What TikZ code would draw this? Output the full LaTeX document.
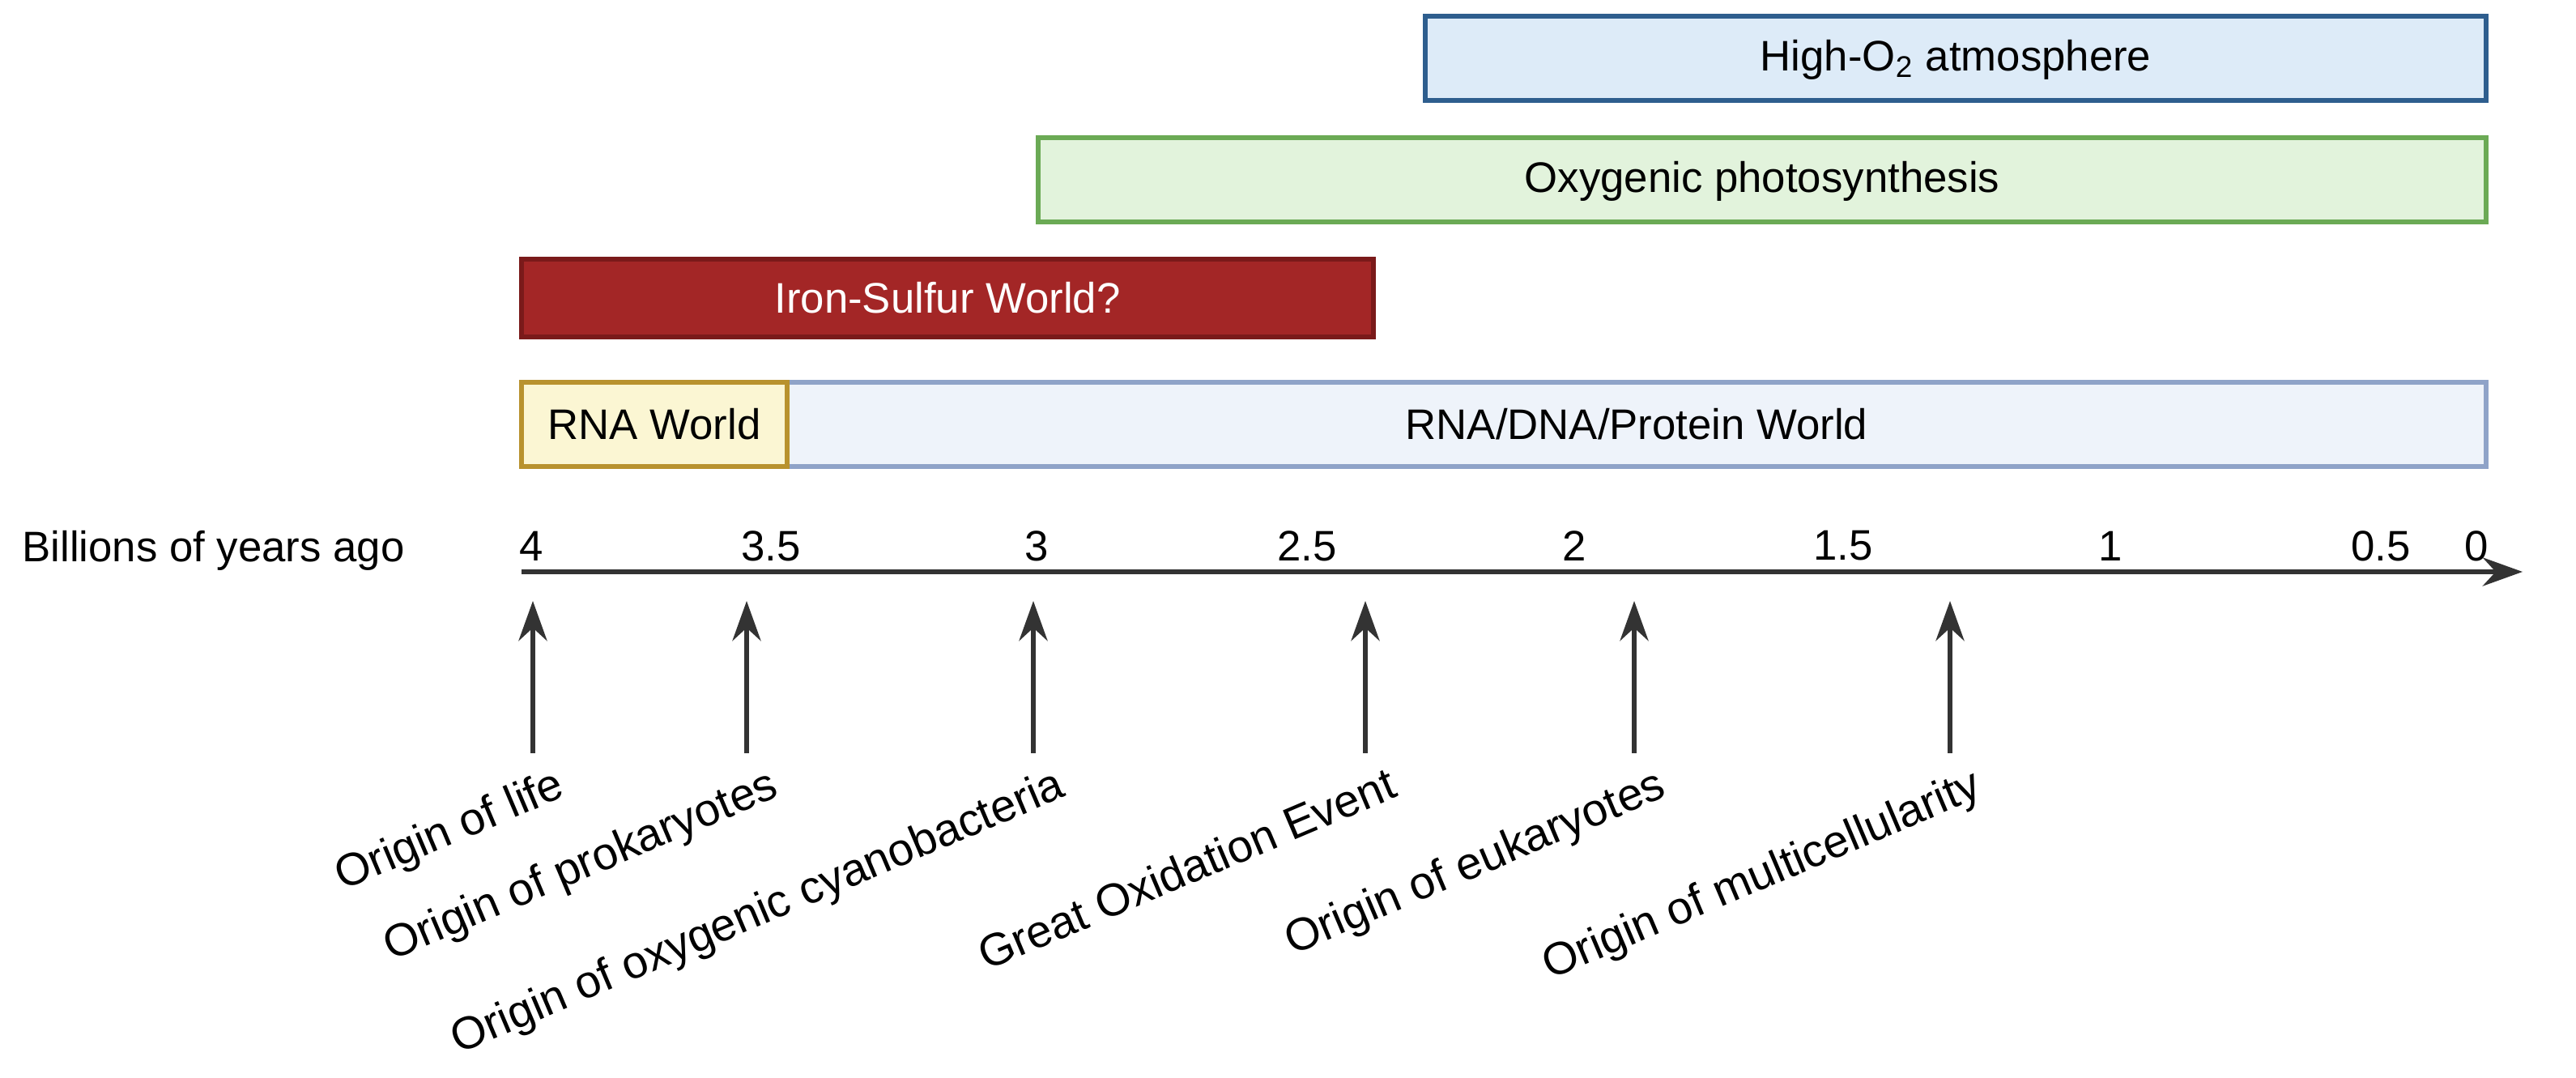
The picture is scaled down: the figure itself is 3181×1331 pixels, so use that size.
\documentclass[tikz,border=0pt]{standalone}
\usepackage{fontspec}
\setmainfont{Liberation Sans}
\usetikzlibrary{arrows.meta}
\definecolor{oxf}{HTML}{DDEBF8}\definecolor{oxd}{HTML}{2E5E8E}
\definecolor{phf}{HTML}{E2F3DC}\definecolor{phd}{HTML}{6BAA55}
\definecolor{fef}{HTML}{A32626}\definecolor{fed}{HTML}{7A1A1A}
\definecolor{rnf}{HTML}{FBF6D3}\definecolor{rnd}{HTML}{B8922E}
\definecolor{prf}{HTML}{EEF3FA}\definecolor{prd}{HTML}{8FA3C8}
\definecolor{ax}{HTML}{333333}
\begin{document}
\begin{tikzpicture}[x=0.01cm,y=-0.01cm,font=\fontsize{15}{17}\selectfont,
  bar/.style={draw,line width=1.6pt,minimum height=0pt},
  up/.style={-{Stealth[length=14pt,width=10pt]},line width=1.6pt,ax},
  ev/.style={rotate=23,anchor=north east,inner sep=2pt,font=\fontsize{16}{18}\selectfont}]
\useasboundingbox (0,0) rectangle (3181,1331);
\draw[bar,fill=oxf,draw=oxd] (1760,20) rectangle (3070,124);
\node at (2415,74) {High-O\textsubscript{2} atmosphere};
\draw[bar,fill=phf,draw=phd] (1282,170) rectangle (3070,274);
\node at (2176,224) {Oxygenic photosynthesis};
\draw[bar,fill=fef,draw=fed] (644,320) rectangle (1696,416);
\node[white] at (1170,368) {Iron-Sulfur World?};
\draw[bar,fill=prf,draw=prd] (972,472) rectangle (3070,576);
\node at (2021,524) {RNA/DNA/Protein World};
\draw[bar,fill=rnf,draw=rnd] (644,472) rectangle (972,576);
\node at (808,524) {RNA World};
\node[anchor=west] (lab) at (15,680) {Billions of years ago};
\coordinate (a0) at (644,706); \coordinate (a1) at (3115,706);
\draw[-{Stealth[length=14pt,width=10pt]},line width=1.6pt,ax] (a0) -- (a1);
\foreach \t/\x in {4/656,3.5/952,3/1280,2.5/1614,2/1944,1.5/2276,1/2606,0.5/2940,0/3058}
  \node at (\x,674) {\t};
\foreach \n/\x/\l in {e1/658/Origin of life,e2/922/Origin of prokaryotes,e3/1276/Origin of oxygenic cyanobacteria,e4/1686/Great Oxidation Event,e5/2018/Origin of eukaryotes,e6/2408/Origin of multicellularity}{
  \coordinate (\n b) at (\x,930); \coordinate (\n t) at (\x,742);
  \draw[up] (\n b) -- (\n t);
  \node[ev] (\n) at (\x+30,935) {\l};
}
\end{tikzpicture}
\end{document}
